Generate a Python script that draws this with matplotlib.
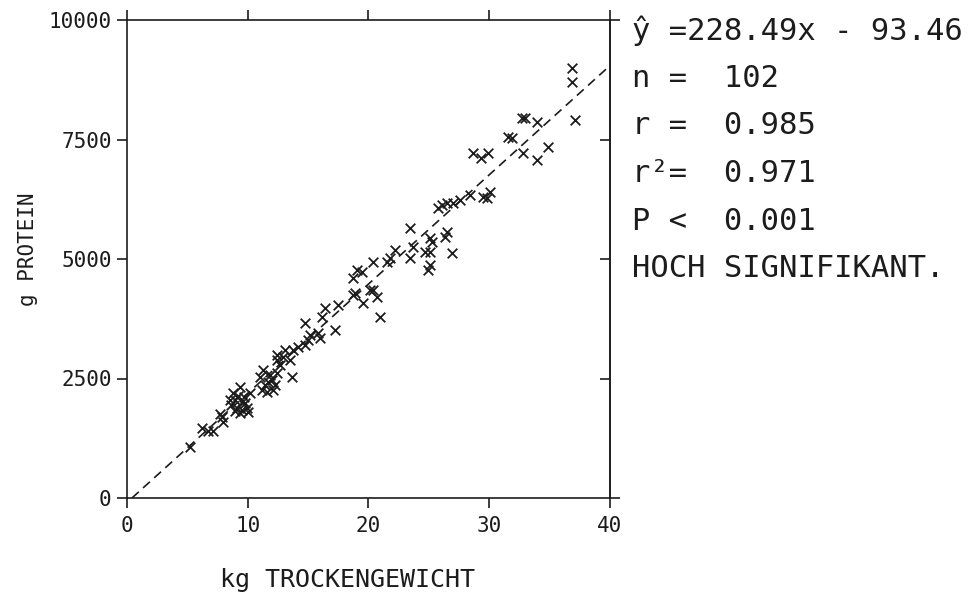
import matplotlib
matplotlib.use('Agg')
import matplotlib.pyplot as plt

# kg Trockengewicht / g Protein
trockengewicht = [5.22, 6.21, 6.71, 7.12, 7.87, 7.95, 7.70, 8.78, 9.36, 8.94,
                  9.52, 9.77, 9.11, 9.52, 9.94, 10.19, 9.36, 8.61, 9.19, 9.69,
                  10.02, 8.94, 8.53, 11.26, 11.84, 11.59, 12.09, 11.01, 12.42, 11.43,
                  12.01, 12.42, 12.67, 11.68, 12.26, 11.18, 12.92, 13.66, 12.42, 13.08,
                  13.75, 13.50, 14.74, 14.99, 15.16, 14.74, 15.82, 15.98, 16.15, 16.40,
                  17.23, 17.47, 18.72, 19.05, 19.46, 18.72, 18.88, 19.54, 20.12, 20.37,
                  20.70, 20.95, 20.37, 21.53, 21.78, 22.19, 23.44, 23.69, 23.44, 24.68,
                  25.09, 25.09, 24.93, 25.09, 25.26, 26.50, 26.34, 26.92, 25.76, 26.09,
                  26.50, 27.00, 27.58, 28.41, 29.48, 29.81, 30.06, 28.65, 29.32, 29.90,
                  31.55, 31.88, 32.71, 32.96, 33.95, 34.87, 32.80, 33.95, 36.85, 36.85,
                  37.10, 14.16]
protein = [1067, 1464, 1402, 1402, 1695, 1590, 1757, 2197, 2322, 2050,
           2008, 1987, 1883, 1841, 1883, 2197, 1778, 1946, 2134, 2113,
           1799, 1820, 2050, 2678, 2573, 2218, 2259, 2531, 2615, 2364,
           2469, 2887, 2782, 2427, 2364, 2259, 2950, 2531, 2992, 3096,
           3096, 2887, 3201, 3305, 3410, 3661, 3452, 3347, 3787, 3975,
           3515, 4038, 4602, 4770, 4728, 4247, 4289, 4079, 4351, 4351,
           4205, 3787, 4937, 4937, 5021, 5188, 5021, 5251, 5648, 5146,
           5146, 4874, 4770, 5439, 5356, 5565, 5460, 5125, 6067, 6130,
           6171, 6171, 6234, 6339, 6297, 6276, 6402, 7217, 7113, 7217,
           7552, 7531, 7950, 7950, 7866, 7343, 7217, 7071, 8996, 8703,
           7908, 3159]

steigung = 228.49
achse = -93.46

stat_zeilen = ['\u0177 =228.49x - 93.46',
               'n =  102',
               'r =  0.985',
               'r\u00b2=  0.971',
               'P <  0.001',
               'HOCH SIGNIFIKANT.']

ink = '#1c1c1c'
plt.rcParams['font.family'] = ['DejaVu Sans Mono', 'DejaVu Sans']

fig = plt.figure(figsize=(9.79, 5.95), dpi=100)
ax = fig.add_axes([127 / 979, 1 - 498 / 595, 483 / 979, 478 / 595])

ax.scatter(trockengewicht, protein, marker='x', s=48, color=ink, linewidths=1.3, zorder=3)

x0 = -achse / steigung
ax.plot([x0, 40], [steigung * x0 + achse, steigung * 40 + achse], color=ink,
        lw=1.2, dashes=(5.5, 3.5), zorder=2)

ax.set_xlim(0, 40)
ax.set_ylim(0, 10000)
ax.set_xticks([0, 10, 20, 30, 40])
ax.set_yticks([0, 2500, 5000, 7500, 10000])
ax.tick_params(axis='x', direction='out', top=True, length=7, width=1.2, color=ink,
               labelsize=15, labelcolor=ink, pad=6)
ax.tick_params(axis='y', direction='out', right=False, length=7, width=1.2, color=ink,
               labelsize=15, labelcolor=ink, pad=4)
for sp in ax.spines.values():
    sp.set_linewidth(1.2)
    sp.set_color(ink)

# rechte Achse: Ecken nach aussen, Rest nach innen
sec = ax.secondary_yaxis('right')
sec.set_yticks([0, 10000])
sec.set_yticks([2500, 5000, 7500], minor=True)
sec.tick_params(which='major', direction='out', length=7, width=1.2, color=ink, labelright=False)
sec.tick_params(which='minor', direction='in', length=7, width=1.2, color=ink, labelright=False)
sec.spines['right'].set_linewidth(1.2)
sec.spines['right'].set_color(ink)

ax.set_xlabel('kg TROCKENGEWICHT', fontsize=18, color=ink)
ax.xaxis.set_label_coords((348 - 127) / 483, -0.146)
ax.set_ylabel('g PROTEIN', fontsize=15, color=ink)
ax.yaxis.set_label_coords((38 - 127) / 483, 0.52)

for i, zeile in enumerate(stat_zeilen):
    fig.text(632 / 979, 1 - (31 + i * 47.5) / 595, zeile, fontsize=22, color=ink,
             va='center', ha='left')

fig.savefig('out.png', dpi=100, facecolor='white')
